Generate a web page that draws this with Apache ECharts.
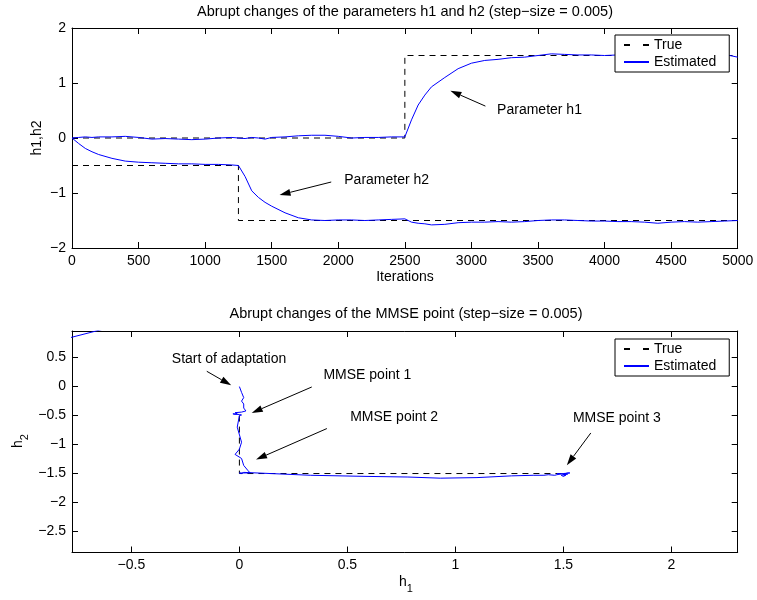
<!DOCTYPE html>
<html><head><meta charset="utf-8">
<script src="https://cdn.jsdelivr.net/npm/echarts@6/dist/echarts.min.js"></script>
<style>html,body{margin:0;padding:0;background:#fff}#c{width:757px;height:600px}</style>
</head><body><div id="c"></div>
<script>
// ---------------- data ----------------
const iterations = [0,50,100,150,200,300,400,500,600,700,800,900,1000,1100,1200,1250,1300,1350,1400,1450,1500,1600,1700,1800,1900,2000,2100,2200,2300,2400,2500,2550,2600,2650,2700,2800,2900,3000,3100,3200,3300,3400,3500,3600,3700,3800,3900,4000,4100,4200,4300,4400,4500,4600,4700,4800,4900,5000];
const h1Estimated = [0.00,0.01,0.02,0.01,0.02,0.02,0.03,0.01,-0.02,-0.01,-0.02,-0.03,-0.02,0.00,0.01,0.00,-0.01,0.01,0.00,-0.02,0.01,0.02,0.04,0.05,0.05,0.03,0.00,0.01,0.01,0.02,0.02,0.33,0.60,0.78,0.93,1.10,1.26,1.36,1.41,1.43,1.46,1.47,1.50,1.53,1.52,1.51,1.51,1.50,1.51,1.50,1.49,1.50,1.51,1.50,1.51,1.50,1.52,1.47];
const h2Estimated = [0.00,-0.10,-0.19,-0.25,-0.30,-0.37,-0.42,-0.44,-0.45,-0.46,-0.47,-0.47,-0.48,-0.48,-0.49,-0.50,-0.70,-0.96,-1.08,-1.17,-1.24,-1.36,-1.45,-1.49,-1.50,-1.49,-1.49,-1.50,-1.49,-1.48,-1.47,-1.53,-1.55,-1.56,-1.58,-1.57,-1.54,-1.53,-1.53,-1.52,-1.53,-1.52,-1.50,-1.49,-1.49,-1.50,-1.51,-1.51,-1.52,-1.52,-1.53,-1.55,-1.53,-1.52,-1.53,-1.52,-1.51,-1.50];
const h1TrueIter = [0,2500,2500,5000];
const h1True     = [0,0,1.5,1.5];
const h2TrueIter = [0,1250,1250,5000];
const h2True     = [-0.5,-0.5,-1.5,-1.5];
const mmseTrueH1 = [0,0,1.5];
const mmseTrueH2 = [-0.5,-1.5,-1.5];
const strayH1 = [-0.85,-0.60];
const strayH2 = [0.78,1.02];

const topXTicks = [0,500,1000,1500,2000,2500,3000,3500,4000,4500,5000];
const topYTicks = [-2,-1,0,1,2];
const botXTicks = [-0.5,0,0.5,1,1.5,2];
const botYTicks = [-2.5,-2,-1.5,-1,-0.5,0,0.5];

const topTitle = 'Abrupt changes of the parameters h1 and h2 (step\u2212size = 0.005)';
const botTitle = 'Abrupt changes of the MMSE point (step\u2212size = 0.005)';
const legendNames = ['True','Estimated'];

// annotations in data coordinates: [text, textAnchor, arrowTail, arrowHead]
const topNotes = [
  ['Parameter h1', [3193,0.51], [3105,0.58], [2842,0.86]],
  ['Parameter h2', [2045,-0.764], [1947,-0.80], [1559,-1.036]]
];
const botNotes = [
  ['Start of adaptation', [-0.313,0.466], [-0.151,0.264], [-0.038,0.022]],
  ['MMSE point 1', [0.389,0.195], [0.335,-0.007], [0.057,-0.455]],
  ['MMSE point 2', [0.513,-0.534], [0.405,-0.724], [0.077,-1.259]],
  ['MMSE point 3', [1.544,-0.547], [1.627,-0.80], [1.516,-1.357]]
];

// ---------------- chart ----------------
const FONT = '"Liberation Sans", Arial, Helvetica, sans-serif';
const BLUE = '#0000ff';
const zip = (a, b) => a.map((v, i) => [v, b[i]]);
const fmt = v => String(v).replace('-', '\u2212');

function axis(grid, pos, min, max, ticks, showLabel) {
  return {
    type: 'value', gridIndex: grid, position: pos, min: min, max: max,
    axisLine: {show: true, onZero: false, lineStyle: {color: '#000', width: 1}},
    axisTick: {show: true, inside: true, length: 6, customValues: ticks, lineStyle: {color: '#000'}},
    axisLabel: {show: showLabel, customValues: ticks, formatter: fmt, color: '#000',
                fontSize: 14, fontFamily: FONT, margin: 6},
    splitLine: {show: false}
  };
}

const chart = echarts.init(document.getElementById('c'), null, {renderer: 'canvas'});
const dash = {color: '#000', width: 1, type: [6, 5]};
const solid = {color: BLUE, width: 1};
function ser(name, xi, data, ls, z) {
  return {type: 'line', name: name, xAxisIndex: xi, yAxisIndex: xi, data: data,
    showSymbol: false, symbol: 'none', lineStyle: ls, itemStyle: {color: ls.color},
    animation: false, clip: true, z: z};
}
function legend(top) {
  return {orient: 'vertical', left: 615, top: top,
    data: [{name: 'True', lineStyle: {type: [6, 13], dashOffset: 0}}, {name: 'Estimated'}],
    backgroundColor: '#fff', borderColor: '#000', borderWidth: 1, borderRadius: 0,
    padding: [3, 13, 3, 8], itemGap: 3, itemWidth: 25, itemHeight: 14,
    itemStyle: {opacity: 0},
    textStyle: {fontSize: 14, fontFamily: FONT, color: '#000'}, selectedMode: false, z: 10};
}

chart.setOption({
  animation: false,
  backgroundColor: '#fff',
  grid: [
    {left: 72, top: 28, width: 665.7, height: 220, containLabel: false},
    {left: 72, top: 331, width: 665.7, height: 221.5, containLabel: false}
  ],
  xAxis: [
    axis(0, 'bottom', 0, 5000, topXTicks, true),
    axis(0, 'top', 0, 5000, topXTicks, false),
    axis(1, 'bottom', -0.775, 2.307, botXTicks, true),
    axis(1, 'top', -0.775, 2.307, botXTicks, false)
  ],
  yAxis: [
    axis(0, 'left', -2, 2, topYTicks, true),
    axis(0, 'right', -2, 2, topYTicks, false),
    axis(1, 'left', -2.862, 0.959, botYTicks, true),
    axis(1, 'right', -2.862, 0.959, botYTicks, false)
  ],
  legend: [legend(35), legend(339)],
  series: [
    ser('True', 0, zip(h1TrueIter, h1True), dash, 2),
    ser('True', 0, zip(h2TrueIter, h2True), dash, 2),
    ser('Estimated', 0, zip(iterations, h1Estimated), solid, 3),
    ser('Estimated', 0, zip(iterations, h2Estimated), solid, 3),
    ser('True', 2, zip(mmseTrueH1, mmseTrueH2), dash, 2),
    ser('Estimated', 2, zip(h1Estimated, h2Estimated), solid, 3),
    ser('', 2, zip(strayH1, strayH2), solid, 3)
  ]
});

// ---------------- text & annotations ----------------
const g = [];
function txt(x, y, text, opts) {
  g.push({type: 'text', x: x, y: y, z: 20,
    style: Object.assign({text: text, fill: '#000', fontSize: 14, fontFamily: FONT,
      align: 'left', verticalAlign: 'middle'}, opts || {})});
}
function arrow(p0, p1) {
  const dx = p1[0] - p0[0], dy = p1[1] - p0[1], L = Math.hypot(dx, dy);
  const ux = dx / L, uy = dy / L, hl = 11, hw = 3.5;
  const bx = p1[0] - ux * hl, by = p1[1] - uy * hl;
  g.push({type: 'line', z: 20, shape: {x1: p0[0], y1: p0[1], x2: bx, y2: by}, style: {stroke: '#000', lineWidth: 1}});
  g.push({type: 'polygon', z: 20, shape: {points: [[p1[0], p1[1]], [bx - uy * hw, by + ux * hw], [bx + uy * hw, by - ux * hw]]}, style: {fill: '#000'}});
}
function notes(list, idx) {
  list.forEach(n => {
    const f = {xAxisIndex: idx, yAxisIndex: idx};
    const t = chart.convertToPixel(f, n[1]);
    txt(t[0], t[1], n[0]);
    arrow(chart.convertToPixel(f, n[2]), chart.convertToPixel(f, n[3]));
  });
}
notes(topNotes, 0);
notes(botNotes, 2);

txt(405, 12, topTitle, {align: 'center', fontSize: 14.5});
txt(406, 314, botTitle, {align: 'center', fontSize: 14.5});
txt(405, 277, 'Iterations', {align: 'center'});
g.push({type: 'text', x: 37, y: 138, rotation: Math.PI / 2, z: 20,
  style: {text: 'h1,h2', fill: '#000', fontSize: 14, fontFamily: FONT, align: 'center', verticalAlign: 'middle'}});
const rich = {a: {fontSize: 14, fontFamily: FONT, fill: '#000', verticalAlign: 'top'},
              s: {fontSize: 11, fontFamily: FONT, fill: '#000', verticalAlign: 'bottom', padding: [8, 0, 0, 0]}};
g.push({type: 'text', x: 406, y: 585, z: 20,
  style: {text: '{a|h}{s|1}', rich: rich, align: 'center', verticalAlign: 'middle'}});
g.push({type: 'text', x: 21, y: 441, rotation: Math.PI / 2, z: 20,
  style: {text: '{a|h}{s|2}', rich: rich, align: 'center', verticalAlign: 'middle'}});

chart.setOption({graphic: g});
</script>
</body></html>
